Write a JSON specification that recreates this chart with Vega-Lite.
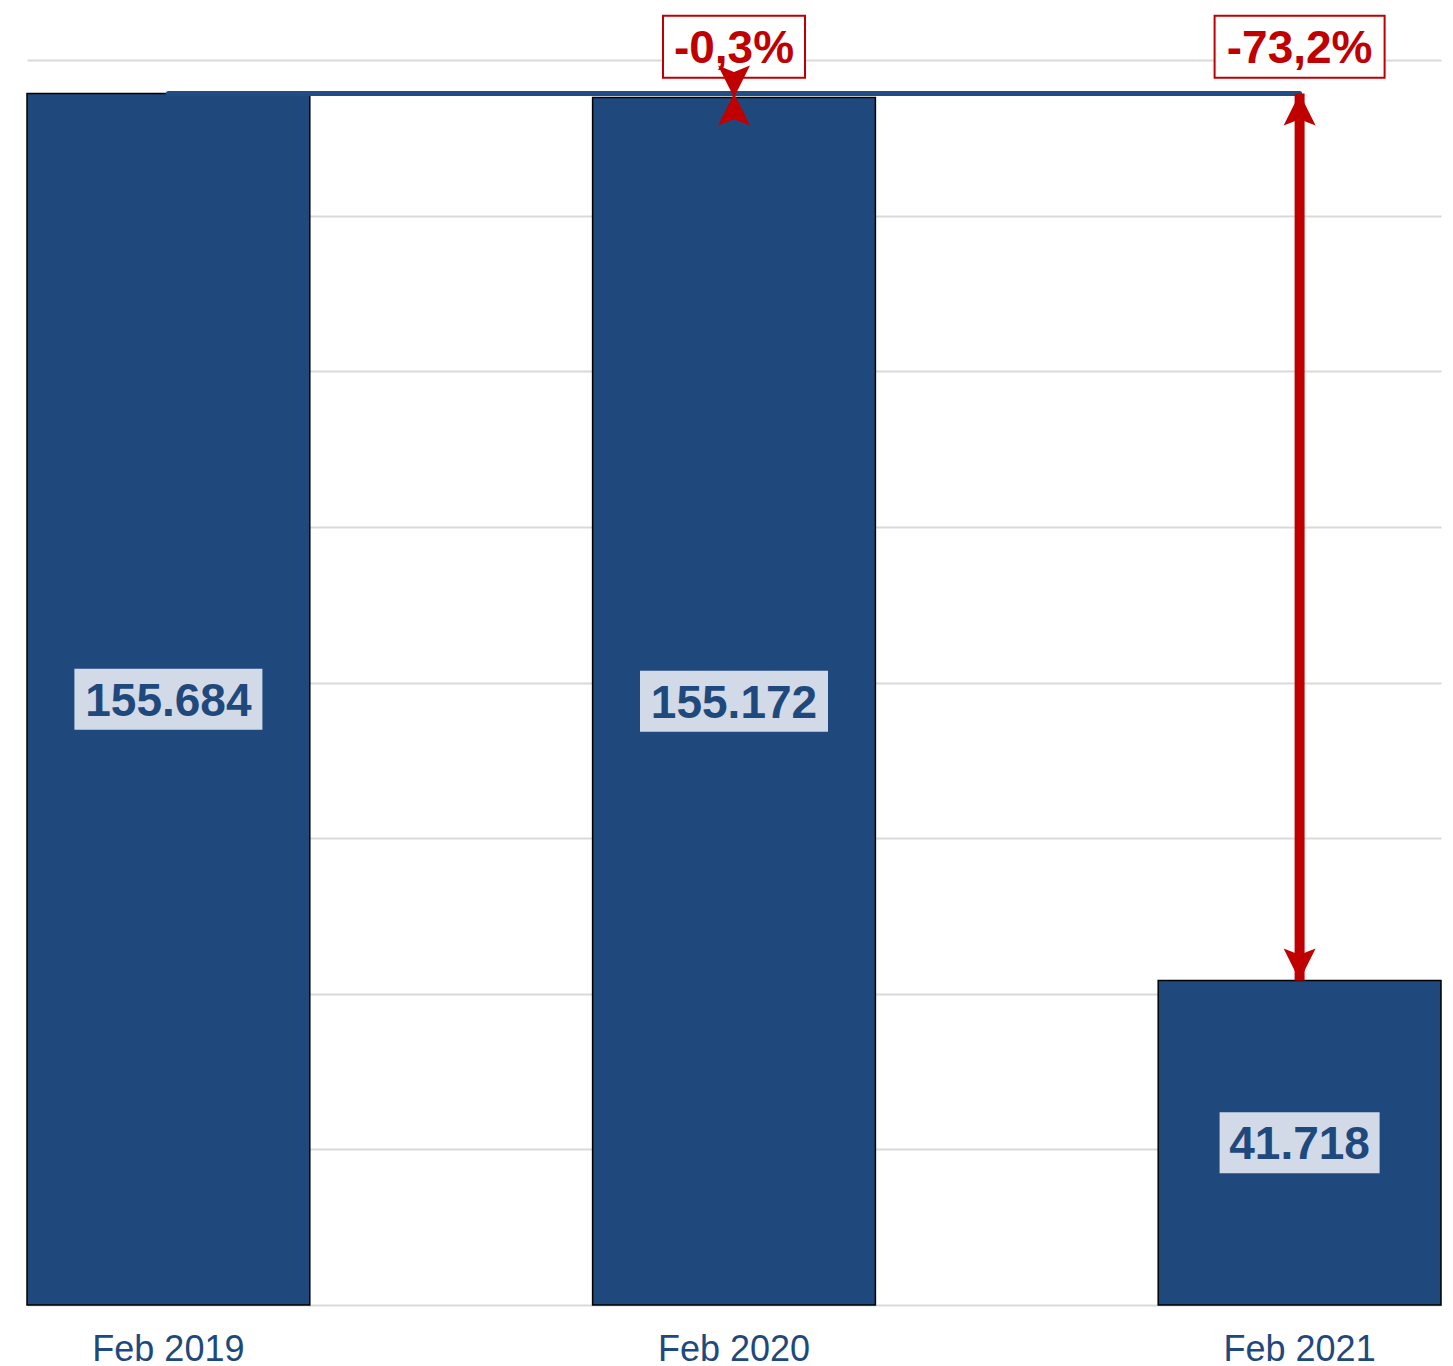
{
  "$schema": "https://vega.github.io/schema/vega-lite/v6.json",
  "autosize": "none",
  "width": 1414,
  "height": 1245,
  "padding": {"left": 27, "right": 12, "top": 60, "bottom": 61},
  "background": "white",
  "config": {
    "view": {"stroke": null},
    "font": "Liberation Sans"
  },
  "datasets": {
    "bars": [
      {"month": "Feb 2019", "value": 155684, "label": "155.684"},
      {"month": "Feb 2020", "value": 155172, "label": "155.172"},
      {"month": "Feb 2021", "value": 41718, "label": "41.718"}
    ],
    "ref": [
      {"from": "Feb 2019", "to": "Feb 2021", "value": 155684}
    ],
    "changes": [
      {"month": "Feb 2020", "top": 155684, "bottom": 155172, "pct": "-0,3%"},
      {"month": "Feb 2021", "top": 155684, "bottom": 41718, "pct": "-73,2%"}
    ]
  },
  "layer": [
    {
      "data": {"name": "bars"},
      "mark": {"type": "bar", "color": "#1f497d", "stroke": "#000000", "strokeWidth": 1.5},
      "encoding": {
        "x": {
          "field": "month", "type": "nominal", "sort": null,
          "scale": {"paddingInner": 0.5, "paddingOuter": 0},
          "axis": {
            "title": null, "domain": false, "ticks": false, "tickSize": 0,
            "labelAngle": 0, "labelFontSize": 36, "labelColor": "#1f497d",
            "labelFont": "Liberation Sans", "labelBaseline": "alphabetic",
            "labelPadding": 55, "grid": false
          }
        },
        "y": {
          "field": "value", "type": "quantitative",
          "scale": {"domain": [0, 160000], "nice": false},
          "axis": {
            "title": null, "domain": false, "ticks": false, "labels": false,
            "values": [0, 20000, 40000, 60000, 80000, 100000, 120000, 140000, 160000],
            "grid": true, "gridColor": "#d9d9d9", "gridWidth": 2
          }
        }
      }
    },
    {
      "data": {"name": "bars"},
      "transform": [{"calculate": "datum.value / 2", "as": "mid"}],
      "mark": {"type": "point", "filled": true, "opacity": 1, "color": "#d2dae8", "strokeWidth": 0},
      "encoding": {
        "x": {"field": "month", "type": "nominal", "sort": null},
        "y": {"field": "mid", "type": "quantitative"},
        "shape": {
          "condition": {"test": "datum.value < 100000", "value": "M-1,-0.381L1,-0.381L1,0.381L-1,0.381Z"},
          "value": "M-1,-0.3245L1,-0.3245L1,0.3245L-1,0.3245Z"
        },
        "size": {
          "condition": {"test": "datum.value < 100000", "value": 25600},
          "value": 35344
        }
      }
    },
    {
      "data": {"name": "bars"},
      "transform": [{"calculate": "datum.value / 2", "as": "mid"}],
      "mark": {"type": "text", "fontSize": 46, "fontWeight": "bold", "color": "#1f497d", "baseline": "alphabetic", "dy": 16.5, "align": "center", "font": "Liberation Sans"},
      "encoding": {
        "x": {"field": "month", "type": "nominal", "sort": null},
        "y": {"field": "mid", "type": "quantitative"},
        "text": {"field": "label"}
      }
    },
    {
      "data": {"name": "ref"},
      "mark": {"type": "rule", "color": "#1f4e85", "strokeWidth": 5, "strokeCap": "round"},
      "encoding": {
        "x": {"field": "from", "type": "nominal", "sort": null},
        "x2": {"field": "to"},
        "y": {"field": "value", "type": "quantitative"}
      }
    },
    {
      "data": {"name": "changes"},
      "transform": [{"filter": "datum.month == 'Feb 2021'"}],
      "mark": {"type": "rule", "color": "#c00000", "strokeWidth": 10},
      "encoding": {
        "x": {"field": "month", "type": "nominal", "sort": null},
        "y": {"field": "top", "type": "quantitative"},
        "y2": {"field": "bottom"}
      }
    },
    {
      "data": {"name": "changes"},
      "mark": {"type": "point", "filled": true, "opacity": 1, "color": "#ffffff", "stroke": "#c00000", "strokeWidth": 2},
      "encoding": {
        "x": {"field": "month", "type": "nominal", "sort": null},
        "y": {"datum": 161700, "type": "quantitative"},
        "shape": {
          "condition": {"test": "datum.month == 'Feb 2020'", "value": "M-1,-0.437L1,-0.437L1,0.437L-1,0.437Z"},
          "value": "M-1,-0.365L1,-0.365L1,0.365L-1,0.365Z"
        },
        "size": {
          "condition": {"test": "datum.month == 'Feb 2020'", "value": 20164},
          "value": 28900
        }
      }
    },
    {
      "data": {"name": "changes"},
      "mark": {"type": "text", "fontSize": 46, "fontWeight": "bold", "color": "#c00000", "baseline": "alphabetic", "dy": 16.5, "align": "center", "font": "Liberation Sans"},
      "encoding": {
        "x": {"field": "month", "type": "nominal", "sort": null},
        "y": {"datum": 161700, "type": "quantitative"},
        "text": {"field": "pct"}
      }
    },
    {
      "data": {"name": "changes"},
      "mark": {"type": "point", "filled": true, "opacity": 1, "color": "#c00000", "strokeWidth": 0, "shape": "M0,0L1,2L0,1.6L-1,2Z", "size": 1024},
      "encoding": {
        "x": {"field": "month", "type": "nominal", "sort": null},
        "y": {"field": "top", "type": "quantitative"}
      }
    },
    {
      "data": {"name": "changes"},
      "mark": {"type": "point", "filled": true, "opacity": 1, "color": "#c00000", "strokeWidth": 0, "shape": "M0,0L1,-2L0,-1.6L-1,-2Z", "size": 1024},
      "encoding": {
        "x": {"field": "month", "type": "nominal", "sort": null},
        "y": {"field": "bottom", "type": "quantitative"}
      }
    }
  ]
}
